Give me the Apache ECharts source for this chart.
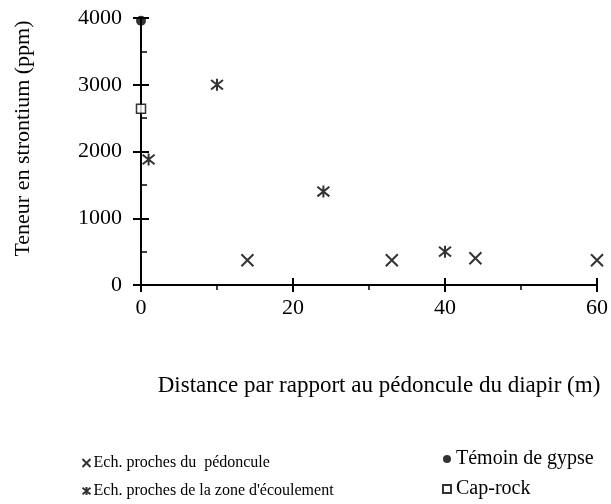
<!DOCTYPE html>
<html><head><meta charset="utf-8">
<script src="https://cdn.jsdelivr.net/npm/echarts@6/dist/echarts.min.js"></script>
<style>html,body{margin:0;padding:0;background:#fff}#c{width:611px;height:504px}</style>
</head><body><div id="c"></div>
<script>
var pedonculeX = [14, 33, 44, 60];
var pedonculeY = [370, 370, 400, 370];
var ecoulX = [1, 10, 24, 40];
var ecoulY = [1880, 3000, 1400, 500];
var gypseX = [0];
var gypseY = [3960];
var caprockX = [0];
var caprockY = [2640];
var seriesNames = ["Ech. proches du  pédoncule", "Ech. proches de la zone d'écoulement", "Témoin de gypse", "Cap-rock"];
function pts(xs, ys){ return xs.map(function(x,i){return [x, ys[i]];}); }
var serif = '"Liberation Serif","Times New Roman",serif';
var crossPath = 'path://M0 0L10 10M10 0L0 10';
var starPath = 'path://M0 1L10 9M10 1L0 9M5 0L5 10';
var chart = echarts.init(document.getElementById('c'));
var axisLine = {show:true, lineStyle:{color:'#000', width:2}};
function plain(v){ return String(v); }
chart.setOption({
  animation:false,
  grid:{left:141, right:14, top:18, bottom:219},
  xAxis:[{
    type:'value', min:0, max:60, interval:20, position:'bottom',
    axisLine:axisLine,
    axisTick:{show:true, inside:false, length:7, lineStyle:{color:'#000', width:2}},
    minorTick:{show:true, splitNumber:2, length:5, lineStyle:{color:'#000', width:1.5}},
    splitLine:{show:false},
    axisLabel:{color:'#000', fontFamily:serif, fontSize:22, margin:12, formatter:plain},
    name:'Distance par rapport au pédoncule du diapir (m)', nameLocation:'middle', nameGap:89,
    nameTextStyle:{color:'#000', fontFamily:serif, fontSize:23, padding:[0,0,0,20]}
  },{
    type:'value', min:0, max:60, interval:20, position:'bottom', offset:0,
    axisLine:{show:false},
    axisTick:{show:true, inside:true, length:7, lineStyle:{color:'#000', width:2}},
    axisLabel:{show:false}, splitLine:{show:false}
  }],
  yAxis:[{
    type:'value', min:0, max:4000, interval:1000, position:'left',
    axisLine:axisLine,
    axisTick:{show:true, inside:false, length:8, lineStyle:{color:'#000', width:2}},
    splitLine:{show:false},
    axisLabel:{color:'#000', fontFamily:serif, fontSize:22, margin:19, formatter:plain},
    name:'Teneur en strontium (ppm)', nameLocation:'middle', nameGap:107,
    nameTextStyle:{color:'#000', fontFamily:serif, fontSize:22, padding:[0,0,0,26]}
  },{
    type:'value', min:0, max:4000, interval:1000, position:'left', offset:0,
    axisLine:{show:false},
    axisTick:{show:true, inside:true, length:8, lineStyle:{color:'#000', width:2}},
    minorTick:{show:true, splitNumber:2, length:6, lineStyle:{color:'#000', width:1.5}},
    axisLabel:{show:false}, splitLine:{show:false}
  }],
  legend:[{
    orient:'vertical', left:75, top:450, itemGap:12, itemWidth:8, itemHeight:8,
    data:[seriesNames[0], seriesNames[1]],
    textStyle:{color:'#000', fontFamily:serif, fontSize:16, padding:[0,0,0,-2]}
  },{
    orient:'vertical', left:437, top:444, itemGap:10, itemWidth:8, itemHeight:8,
    data:[seriesNames[2], seriesNames[3]],
    textStyle:{color:'#000', fontFamily:serif, fontSize:20, padding:[0,0,0,0]}
  }],
  series:[{
    name:seriesNames[0], type:'scatter', data:pts(pedonculeX, pedonculeY),
    symbol:crossPath, symbolSize:12,
    itemStyle:{color:'none', borderColor:'#000', borderWidth:2}
  },{
    name:seriesNames[1], type:'scatter', data:pts(ecoulX, ecoulY),
    symbol:starPath, symbolSize:12,
    itemStyle:{color:'none', borderColor:'#000', borderWidth:2}
  },{
    name:seriesNames[2], type:'scatter', data:pts(gypseX, gypseY),
    symbol:'circle', symbolSize:10,
    itemStyle:{color:'#000'}
  },{
    name:seriesNames[3], type:'scatter', data:pts(caprockX, caprockY),
    symbol:'rect', symbolSize:9,
    itemStyle:{color:'#fff', borderColor:'#000', borderWidth:1.5}
  }]
});
</script></body></html>
